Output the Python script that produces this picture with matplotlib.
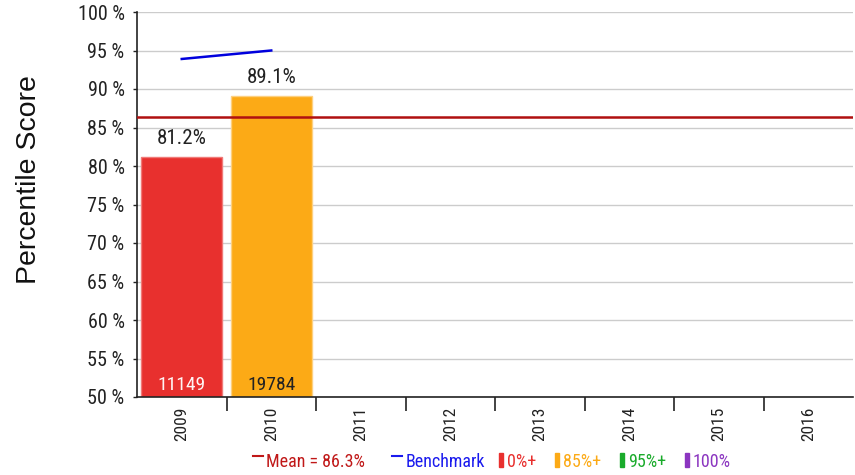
import matplotlib
matplotlib.use("Agg")
import matplotlib.pyplot as plt
from matplotlib import font_manager as fm
from matplotlib.patches import Rectangle
from matplotlib.lines import Line2D

names = {f.name for f in fm.fontManager.ttflist}
font = "Liberation Sans"
for cand in ["Roboto Condensed", "Liberation Sans Narrow", "Arial Narrow", "Open Sans Condensed"]:
    if cand in names:
        font = cand
        break
plt.rcParams['font.family'] = [font, 'DejaVu Sans']
k = 1.0 if font != "Liberation Sans" else 0.9

years = ["2009", "2010", "2011", "2012", "2013", "2014", "2015", "2016"]
scores = [81.2, 89.1]
counts = ["11149", "19784"]
bar_colors = ["#e8302e", "#fcaa16"]
edge_colors = ["#f07a78", "#fdd080"]
count_colors = ["#fff4f4", "#222222"]
benchmark = [93.9, 95.0]
mean_value = 86.3
yticks = [50, 55, 60, 65, 70, 75, 80, 85, 90, 95, 100]

W, H = 855, 475
fig = plt.figure(figsize=(W / 100, H / 100), dpi=100)
ax = fig.add_axes([137 / W, 1 - 397 / H, 716 / W, 385 / H])

x = list(range(len(years)))
ax.set_xlim(-0.5, len(years) - 0.5)
ax.set_ylim(50, 100)

ax.bar(x[:len(scores)], [s - 50 for s in scores], bottom=50, width=0.9,
       color=bar_colors, edgecolor=edge_colors, linewidth=1, zorder=2)
for i, s in enumerate(scores):
    ax.text(i, s + 1.2, f"{s:.1f}%", ha="center", va="bottom", fontsize=15 * k, color="#222222")
    ax.text(i, 50.4, counts[i], ha="center", va="bottom", fontsize=14 * k, color=count_colors[i])

ax.plot(x[:len(benchmark)], benchmark, color="#0000dd", lw=1.8, zorder=3)
ax.axhline(mean_value, color="#b01010", lw=1.8, zorder=3)

ax.set_yticks(yticks)
ax.set_yticklabels([f"{v} %" for v in yticks], fontsize=14.5 * k, color="#222222")
ax.yaxis.grid(True, color="#cccccc", lw=1, zorder=0)
ax.set_axisbelow(True)

ax.set_xticks(x)
ax.set_xticklabels(years, rotation=90, fontsize=12.5 * k, color="#222222")
ax.tick_params(axis="x", length=0, pad=7)
ax.set_xticks([i + 0.5 for i in x[:-1]], minor=True)
ax.tick_params(axis="x", which="minor", length=10, width=1.2, color="#222222")
ax.tick_params(axis="y", length=3, width=1, color="#222222", pad=6)

for side in ["top", "right"]:
    ax.spines[side].set_visible(False)
for side in ["left", "bottom"]:
    ax.spines[side].set_color("#222222")
    ax.spines[side].set_linewidth(1.2)

fig.text(29 / W, 1 - 180 / H, "Percentile Score", rotation=90, ha="center", va="center",
         fontsize=20.5, family="Liberation Sans", color="#111111")

# legend row
legend_items = [
    ("line", "#c01818", "Mean = 86.3%", 253, 266),
    ("line", "#1a1aee", "Benchmark", 392, 406),
    ("rect", "#e8302e", "0%+", 499, 507),
    ("rect", "#fcaa16", "85%+", 555, 563),
    ("rect", "#1aab2b", "95%+", 620, 628),
    ("rect", "#8b35c0", "100%", 685, 693),
]
for kind, col, label, px, tx in legend_items:
    if kind == "line":
        fig.add_artist(Line2D([px / W, (px + 10) / W], [1 - 456 / H] * 2, color=col, lw=1.5))
    else:
        fig.add_artist(Rectangle((px / W, 1 - 467 / H), 4 / W, 14 / H, color=col,
                                 transform=fig.transFigure))
    fig.text(tx / W, 1 - 462 / H, label, ha="left", va="center", fontsize=13 * k, color=col)

fig.savefig("out.png", dpi=100)
